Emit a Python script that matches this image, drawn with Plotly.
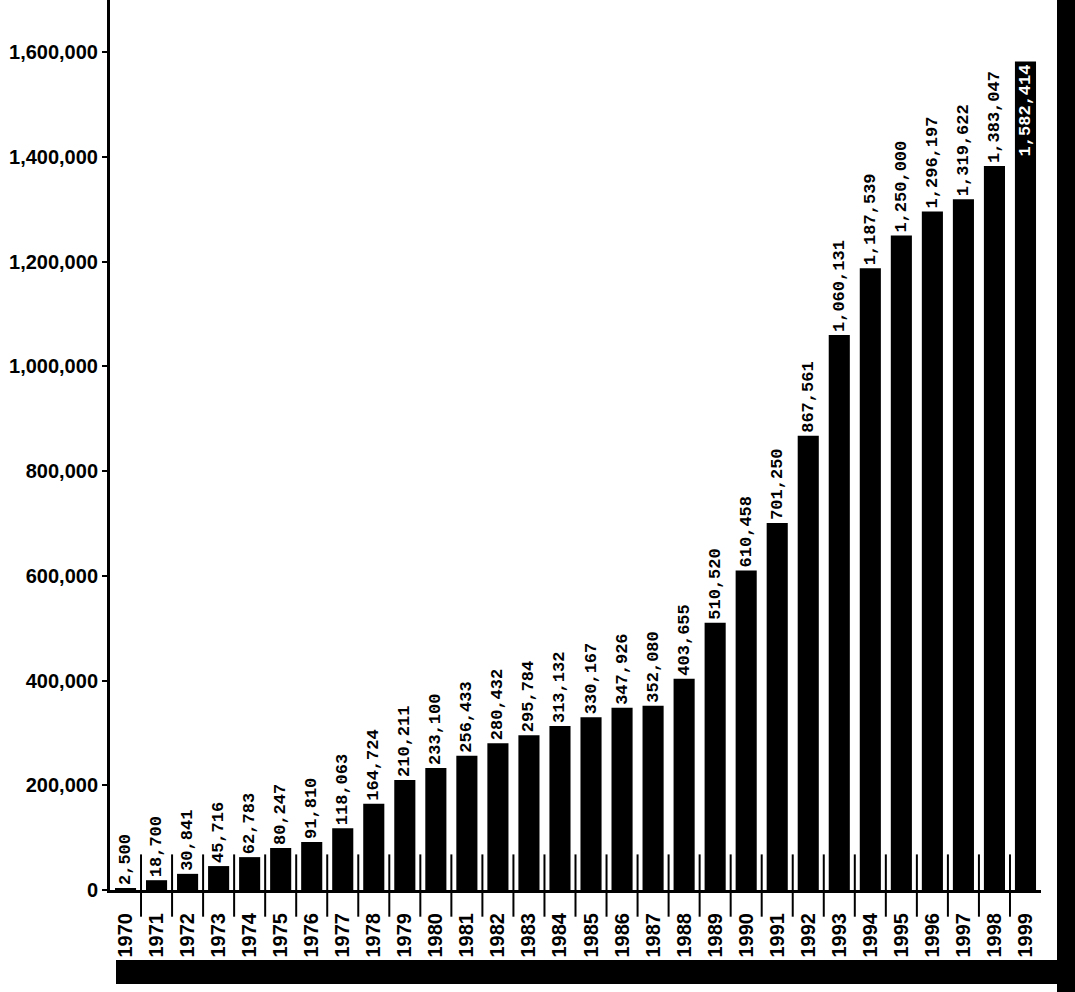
import plotly.graph_objects as go

# Annual totals, 1970-1999
years = [str(y) for y in range(1970, 2000)]
values = [
    2500, 18700, 30841, 45716, 62783, 80247, 91810, 118063, 164724, 210211,
    233100, 256433, 280432, 295784, 313132, 330167, 347926, 352080, 403655, 510520,
    610458, 701250, 867561, 1060131, 1187539, 1250000, 1296197, 1319622, 1383047, 1582414,
]

# Vertical axis ticks
y_ticks = [0, 200000, 400000, 600000, 800000, 1000000, 1200000, 1400000, 1600000]
y_tick_text = ["0", "200,000", "400,000", "600,000", "800,000",
               "1,000,000", "1,200,000", "1,400,000", "1,600,000"]
y_max = 1700000

W, H = 1075, 992
ML, MR, MT, MB = 110, 34, 0, 102
PW, PH = W - ML - MR, H - MT - MB


def px_x(px):
    return (px - ML) / PW


def px_y(py):
    return (H - MB - py) / PH


# the tallest bar carries its label inside, so the text stays on the page
tallest = values.index(max(values))
text_pos = ["inside" if i == tallest else "outside" for i in range(len(values))]
text_col = ["white" if i == tallest else "black" for i in range(len(values))]

fig = go.Figure(
    go.Bar(
        x=years,
        y=values,
        marker=dict(color="black", line=dict(width=0)),
        width=0.68,
        texttemplate="%{y:,}",
        textposition=text_pos,
        insidetextanchor="end",
        textangle=-90,
        constraintext="none",
        cliponaxis=True,
        textfont=dict(family="Liberation Mono, DejaVu Sans Mono, monospace",
                      size=17, color=text_col, weight="bold"),
    )
)

shapes = []
# tick marks between the year slots, crossing the baseline
for i in range(len(years) - 1):
    shapes.append(dict(type="line", xref="x", yref="paper",
                       x0=i + 0.5, x1=i + 0.5, y0=-0.03, y1=0.04,
                       line=dict(color="black", width=2)))
# heavy border along the right and bottom edges of the sheet
shapes.append(dict(type="rect", xref="paper", yref="paper",
                   x0=px_x(1057), x1=px_x(1076), y0=px_y(992), y1=px_y(-2),
                   fillcolor="black", line=dict(width=0), layer="above"))
shapes.append(dict(type="rect", xref="paper", yref="paper",
                   x0=px_x(116), x1=px_x(1076), y0=px_y(984), y1=px_y(960),
                   fillcolor="black", line=dict(width=0), layer="above"))

fig.update_layout(
    width=W, height=H,
    margin=dict(l=ML, r=MR, t=MT, b=MB, pad=0),
    paper_bgcolor="white", plot_bgcolor="white",
    showlegend=False,
    bargap=0.32,
    shapes=shapes,
    xaxis=dict(
        type="category",
        showline=True, linecolor="black", linewidth=3,
        showgrid=False, zeroline=False,
        ticks="", tickangle=-90,
        ticklabelstandoff=12,
        tickfont=dict(family="Liberation Sans, Arial, sans-serif",
                      size=20, color="black", weight="bold"),
    ),
    yaxis=dict(
        range=[0, y_max],
        tickvals=y_ticks, ticktext=y_tick_text,
        showline=True, linecolor="black", linewidth=3,
        showgrid=False, zeroline=False,
        ticks="outside", ticklen=5, tickwidth=2, tickcolor="black",
        tickfont=dict(family="Liberation Sans, Arial, sans-serif",
                      size=20, color="black", weight="bold"),
    ),
)

fig.write_html("out.html")
